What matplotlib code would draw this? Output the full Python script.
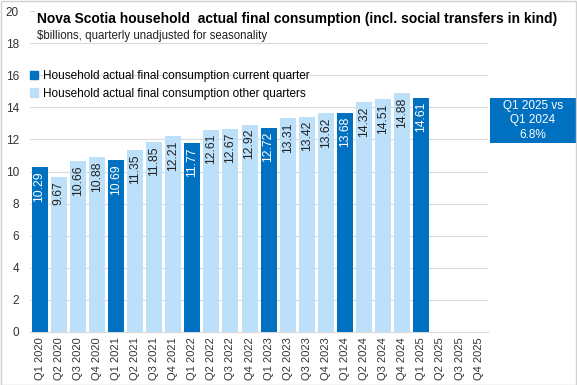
import matplotlib.pyplot as plt
from matplotlib.patches import Patch, Rectangle

plt.rcParams['font.family'] = ['Liberation Sans', 'DejaVu Sans']

quarters = [f"Q{q} {y}" for y in range(2020, 2026) for q in range(1, 5)]
values = [10.29, 9.67, 10.66, 10.88, 10.69, 11.35, 11.85, 12.21,
          11.77, 12.61, 12.67, 12.92, 12.72, 13.31, 13.42, 13.62,
          13.68, 14.32, 14.51, 14.88, 14.61]

dark = "#0070C0"
light = "#BDE0FA"

fig = plt.figure(figsize=(5.77, 3.85), dpi=100)
ax = fig.add_axes([0.052, 0.138, 0.794, 0.833])

x = list(range(len(quarters)))
cols = [dark if quarters[i].startswith("Q1") else light for i in range(len(values))]
ax.bar(x[:len(values)], values, width=0.84, color=cols, zorder=3)

for i, v in enumerate(values):
    tc = "white" if cols[i] == dark else "#222222"
    ax.annotate(f"{v:.2f}", (i, v), xytext=(0, -3), textcoords="offset points",
                rotation=90, ha="center", va="top", fontsize=8.8, color=tc, zorder=4)

ax.set_xlim(-0.5, len(quarters) - 0.5)
ax.set_ylim(0, 20)
ax.set_yticks(range(0, 21, 2))
ax.set_xticks(x)
ax.set_xticklabels(quarters, rotation=90, fontsize=8, color="#333333")
ax.tick_params(axis="y", labelsize=8.5, colors="#333333", length=0, pad=8)
ax.tick_params(axis="x", length=0, pad=4)
ax.grid(axis="y", color="#D9D9D9", linewidth=0.8, zorder=0)
for s in ["top", "right", "left"]:
    ax.spines[s].set_visible(False)
ax.spines["bottom"].set_color("#D9D9D9")

ax.text(-0.15, 19.5, "Nova Scotia household  actual final consumption (incl. social transfers in kind)",
        fontsize=10, fontweight="bold", va="center", ha="left", zorder=5,
        bbox=dict(facecolor="white", edgecolor="none", pad=1))
ax.text(-0.15, 18.45, "$billions, quarterly unadjusted for seasonality",
        fontsize=8.3, va="center", ha="left", color="#222222", zorder=5)

handles = [Patch(color=dark), Patch(color=light)]
labels = ["Household actual final consumption current quarter",
          "Household actual final consumption other quarters"]
ax.legend(handles, labels, loc="upper left", bbox_to_anchor=(-0.01, 0.83),
          frameon=False, fontsize=8.5, handlelength=0.7, handleheight=0.7,
          handletextpad=0.4, labelspacing=0.45, borderaxespad=0)

# callout box on the right
fig.patches.append(Rectangle((0.849, 0.629), 0.149, 0.117, transform=fig.transFigure,
                             facecolor=dark, edgecolor="none"))
fig.text(0.9235, 0.6875, "Q1 2025 vs\nQ1 2024\n6.8%", color="white", fontsize=8.5,
         ha="center", va="center", linespacing=1.25)

fig.patches.append(Rectangle((0.001, 0.001), 0.997, 0.997, transform=fig.transFigure,
                             fill=False, edgecolor="#D0D0D0", linewidth=1))

fig.savefig("out.png", dpi=100)
